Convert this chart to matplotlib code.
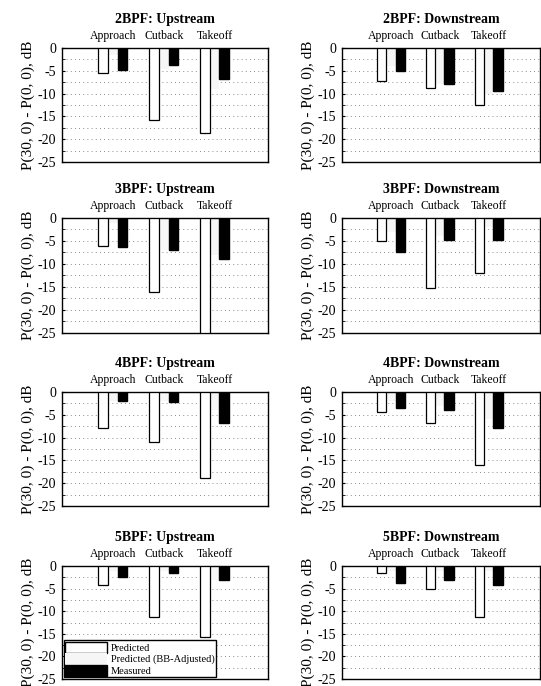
import numpy as np
import matplotlib
matplotlib.use("Agg")
import matplotlib.pyplot as plt
from matplotlib.patches import Patch

plt.rcParams['font.family'] = ['Liberation Serif', 'DejaVu Serif']
plt.rcParams['hatch.color'] = '#c8c8c8'
plt.rcParams['hatch.linewidth'] = 0.6

conditions = ["Approach", "Cutback", "Takeoff"]
panel_titles = ["2BPF: Upstream", "2BPF: Downstream",
                "3BPF: Upstream", "3BPF: Downstream",
                "4BPF: Upstream", "4BPF: Downstream",
                "5BPF: Upstream", "5BPF: Downstream"]

predicted = [[-5.5, -15.7, -18.6], [-7.2, -8.8, -12.5],
             [-6.0, -16.0, -25.0], [-5.0, -15.2, -12.0],
             [-8.0, -11.0, -18.8], [-4.3, -6.8, -16.0],
             [-4.2, -11.3, -15.7], [-1.5, -5.0, -11.3]]
bb_adjusted = [[-1.5, -4.5, -9.0], [-4.0, -8.0, -10.0],
               [-1.0, -7.0, -8.0], [-3.0, -4.0, -2.0],
               [-2.0, -2.0, -4.0], [-2.0, -3.0, -6.0],
               [-1.0, -1.0, -3.0], [-1.0, -1.0, -1.0]]
measured = [[-4.8, -3.8, -6.8], [-5.0, -8.0, -9.5],
            [-6.3, -7.0, -9.0], [-7.5, -4.8, -4.8],
            [-2.0, -2.3, -6.8], [-3.5, -4.0, -7.8],
            [-2.5, -1.5, -3.0], [-3.8, -3.0, -4.2]]

fig = plt.figure(figsize=(5.41, 6.86), dpi=100)

W, H = 541.0, 686.0
col_x = [(62, 206), (342, 198)]
row_y = [(48, 162), (218, 333), (392, 506), (566, 679)]

x = np.arange(1, 4)
bw = 0.19
gray = "#f6f6f6"

for i, title in enumerate(panel_titles):
    r, c = divmod(i, 2)
    x0, w = col_x[c]
    ytop, ybot = row_y[r]
    ax = fig.add_axes([x0 / W, 1 - ybot / H, w / W, (ybot - ytop) / H])

    ax.bar(x, bb_adjusted[i], bw, color=gray, edgecolor="none", hatch="..", zorder=2)
    ax.bar(x - bw, predicted[i], bw, color="white", edgecolor="black", linewidth=0.9, zorder=3)
    ax.bar(x + bw, measured[i], bw, color="black", edgecolor="black", zorder=3)

    ax.set_xlim(0.0, 4.05)
    ax.set_ylim(-25, 0)
    ax.set_yticks([0, -5, -10, -15, -20, -25])
    ax.set_yticklabels(["0", "-5", "-10", "-15", "-20", "-25"], fontsize=10)
    ax.set_yticks(np.arange(-22.5, 0, 2.5), minor=True)
    ax.yaxis.grid(True, which="both", linestyle=(0, (1, 4)), color="#666666", linewidth=0.6)
    ax.tick_params(axis="y", which="both", length=2, direction="in", pad=4)

    ax.xaxis.tick_top()
    ax.set_xticks(x)
    ax.set_xticklabels(conditions, fontsize=8.5)
    ax.tick_params(axis="x", length=0, pad=4)

    ax.set_title(title, fontsize=10, fontweight="bold", pad=18)
    ax.set_ylabel("P(30, 0) - P(0, 0), dB", fontsize=11, labelpad=2)
    for sp in ax.spines.values():
        sp.set_linewidth(1.0)

    if i == 6:
        handles = [Patch(facecolor="white", edgecolor="black", label="Predicted"),
                   Patch(facecolor=gray, edgecolor="none", hatch="..", label="Predicted (BB-Adjusted)"),
                   Patch(facecolor="black", edgecolor="black", label="Measured")]
        leg = ax.legend(handles=handles, loc="lower left", fontsize=7.5, frameon=True,
                        fancybox=False, edgecolor="black", framealpha=1,
                        handlelength=4.0, handleheight=1.2, labelspacing=0.05,
                        borderaxespad=0.15, borderpad=0.15, handletextpad=0.4)
        leg.set_zorder(5)

fig.savefig("out.png", dpi=100)
